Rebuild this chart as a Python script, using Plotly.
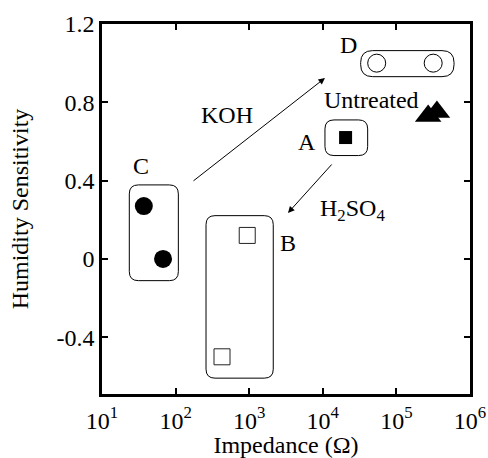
import numpy as np
import plotly.graph_objects as go

# ---- data ----
C_x = [37, 67.5]
C_y = [0.27, 0.0]
B_x = [940, 427]
B_y = [0.12, -0.50]
A_x = [20400]
A_y = [0.62]
D_x = [54000, 316000]
D_y = [1.0, 1.0]
U_x = [270000, 355000]
U_y = [0.73, 0.75]

x_tickvals = [1e1, 1e2, 1e3, 1e4, 1e5, 1e6]
x_ticktext = ["10<sup>1</sup>", "10<sup>2</sup>", "10<sup>3</sup>",
              "10<sup>4</sup>", "10<sup>5</sup>", "10<sup>6</sup>"]
y_tickvals = [-0.4, 0, 0.4, 0.8, 1.2]
y_ticktext = ["-0.4", "0", "0.4", "0.8", "1.2"]

# group boxes: [x0, x1, y0, y1] in data units
box_C = [23.5, 109, -0.111, 0.378]
box_B = [259, 2123, -0.609, 0.221]
box_A = [10700, 40700, 0.528, 0.71]
box_D = [32700, 607000, 0.931, 1.064]

XR = [1, 6]          # log10 range
YR = [-0.69, 1.2]
FONT = "Liberation Serif"
FS = 24

W, H = 488, 458
ML, MR, MT, MB = 102, 18, 24, 64
PW, PH = W - ML - MR, H - MT - MB


def xp(v):
    return (np.log10(v) - XR[0]) / (XR[1] - XR[0])


def yp(v):
    return (v - YR[0]) / (YR[1] - YR[0])


def rounded_box(b, r_px):
    x0, x1, y0, y1 = xp(b[0]), xp(b[1]), yp(b[2]), yp(b[3])
    rx, ry = r_px / PW, r_px / PH
    return (f"M {x0+rx},{y0} L {x1-rx},{y0} Q {x1},{y0} {x1},{y0+ry} "
            f"L {x1},{y1-ry} Q {x1},{y1} {x1-rx},{y1} "
            f"L {x0+rx},{y1} Q {x0},{y1} {x0},{y1-ry} "
            f"L {x0},{y0+ry} Q {x0},{y0} {x0+rx},{y0} Z")


fig = go.Figure()
fig.add_trace(go.Scatter(x=C_x, y=C_y, mode="markers",
                         marker=dict(symbol="circle", size=18, color="black")))
fig.add_trace(go.Scatter(x=B_x, y=B_y, mode="markers",
                         marker=dict(symbol="square-open", size=16, color="#222",
                                     line=dict(width=1))))
fig.add_trace(go.Scatter(x=A_x, y=A_y, mode="markers",
                         marker=dict(symbol="square", size=13, color="black")))
fig.add_trace(go.Scatter(x=D_x, y=D_y, mode="markers",
                         marker=dict(symbol="circle-open", size=18, color="black",
                                     line=dict(width=1))))
fig.add_trace(go.Scatter(x=U_x, y=U_y, mode="markers",
                         marker=dict(symbol="triangle-up", size=23, color="black")))

for b, r in [(box_C, 9), (box_B, 9), (box_A, 9), (box_D, 12)]:
    fig.add_shape(type="path", path=rounded_box(b, r), xref="paper", yref="paper",
                  line=dict(color="black", width=1))

labels = [
    ("C", 34, 0.475), ("B", 3370, 0.082), ("A", 6100, 0.598), ("D", 22000, 1.093),
    ("Untreated", 45200, 0.812), ("KOH", 500, 0.735),
    ("H<sub>2</sub>SO<sub>4</sub>", 25000, 0.25),
]
for t, x, y in labels:
    fig.add_annotation(x=np.log10(x), y=y, text=t, showarrow=False,
                       font=dict(family=FONT, size=FS, color="black"))

arrows = [  # (head x, head y, tail x, tail y)
    (10700, 0.924, 167, 0.393),
    (3365, 0.235, 13770, 0.49),
]
for hx, hy, tx, ty in arrows:
    fig.add_annotation(x=np.log10(hx), y=hy, ax=np.log10(tx), ay=ty,
                       xref="x", yref="y", axref="x", ayref="y", text="",
                       showarrow=True, arrowhead=2, arrowsize=1.3, arrowwidth=1,
                       arrowcolor="black")

axis_common = dict(showline=True, linewidth=2.5, linecolor="black", mirror="ticks",
                   ticks="inside", ticklen=6, tickwidth=1.5, tickcolor="black",
                   showgrid=False, zeroline=False, automargin=False,
                   tickfont=dict(family=FONT, size=FS, color="black"))
fig.update_xaxes(type="log", range=XR, tickvals=x_tickvals, ticktext=x_ticktext,
                 ticklabelstandoff=3,
                 title=dict(text="Impedance (Ω)", standoff=9,
                            font=dict(family=FONT, size=FS, color="black")),
                 **axis_common)
fig.update_yaxes(range=YR, tickvals=y_tickvals, ticktext=y_ticktext,
                 title=dict(text="Humidity Sensitivity", standoff=22,
                            font=dict(family=FONT, size=FS, color="black")),
                 **axis_common)
fig.update_layout(width=W, height=H, margin=dict(l=ML, r=MR, t=MT, b=MB),
                  plot_bgcolor="white", paper_bgcolor="white", showlegend=False,
                  font=dict(family=FONT, color="black"))
fig.write_html("out.html")
